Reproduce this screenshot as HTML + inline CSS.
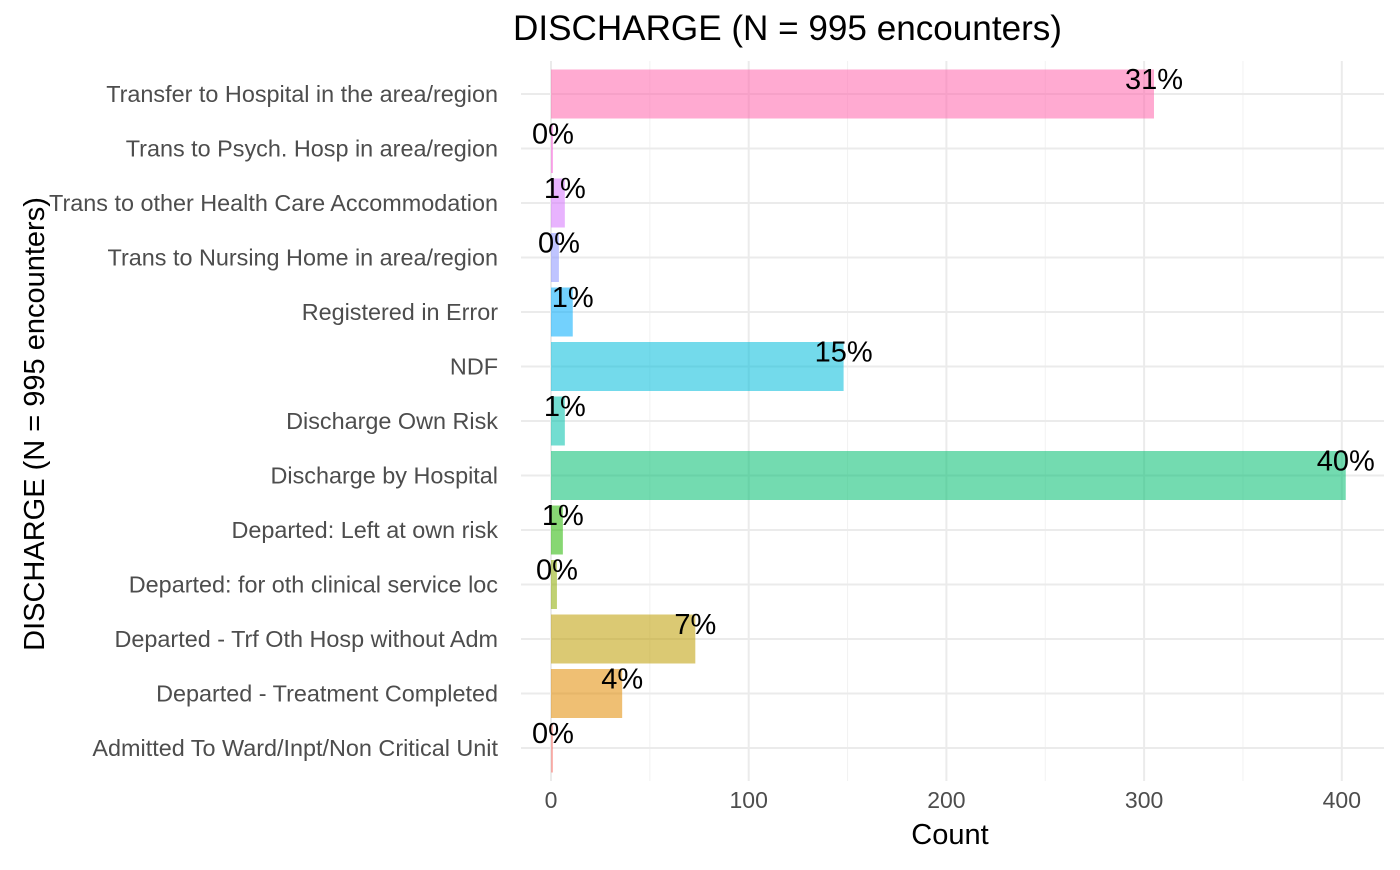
<!DOCTYPE html>
<html><head><meta charset="utf-8"><style>
body{margin:0;background:#fff;font-family:"Liberation Sans",Arial,sans-serif}
</style></head><body>
<svg id="chart" width="1400" height="865" xmlns="http://www.w3.org/2000/svg" style="font-family:'Liberation Sans',Arial,sans-serif">
<text x="513" y="40" font-size="35" fill="#000" textLength="549" lengthAdjust="spacingAndGlyphs">DISCHARGE (N = 995 encounters)</text>
<text transform="translate(44,424) rotate(-90)" text-anchor="middle" font-size="29" fill="#000">DISCHARGE (N = 995 encounters)</text>
<text x="950" y="844" text-anchor="middle" font-size="29" fill="#000">Count</text>
<g id="grid"></g><g id="bars"></g><g id="labels"></g><g id="ticks"></g>
</svg>
<script>
const categories=["Admitted To Ward/Inpt/Non Critical Unit","Departed - Treatment Completed","Departed - Trf Oth Hosp without Adm","Departed: for oth clinical service loc","Departed: Left at own risk","Discharge by Hospital","Discharge Own Risk","NDF","Registered in Error","Trans to Nursing Home in area/region","Trans to other Health Care Accommodation","Trans to Psych. Hosp in area/region","Transfer to Hospital in the area/region"];
const counts=[1,36,73,3,6,402,7,148,11,4,7,1,305];
const total=995;
const xTicks=[0,100,200,300,400];
const colors=["#F8766D","#E18A00","#BE9C00","#8CAB00","#24B700","#00BE70","#00C1AB","#00BBDA","#00ACFC","#8B93FF","#D575FE","#F962DD","#FF65AC"];
const NS="http://www.w3.org/2000/svg";
const x=v=>551+v*1.977;
const band=54.5;
const y=i=>748-i*band;
function mk(t,a,p){const e=document.createElementNS(NS,t);for(const k in a)e.setAttribute(k,a[k]);p.appendChild(e);return e;}
const grid=document.getElementById('grid'),bars=document.getElementById('bars'),labels=document.getElementById('labels'),ticks=document.getElementById('ticks');
for(let i=0;i<xTicks.length;i++){
 const l=mk('line',{x1:x(xTicks[i]),x2:x(xTicks[i]),y1:61,y2:781,stroke:'#ebebeb','stroke-width':2},grid);
 
 
 if(i<xTicks.length-1){const m=(xTicks[i]+xTicks[i+1])/2;
  const ml=mk('line',{x1:x(m),x2:x(m),y1:61,y2:781,stroke:'#f2f2f2','stroke-width':1},grid);
  
  }
 const t=mk('text',{x:x(xTicks[i]),y:808,'text-anchor':'middle','font-size':23,fill:'#4d4d4d'},ticks);
 t.textContent=xTicks[i];
 
 
}
categories.forEach((c,i)=>{
 const g=mk('line',{x1:521,x2:1384,y1:y(i),y2:y(i),stroke:'#ebebeb','stroke-width':2},grid);
 
 
 const r=mk('rect',{x:x(0),y:y(i)-24.5,width:x(counts[i])-x(0),height:49,fill:colors[i],'fill-opacity':0.55},bars);
 
 
 const t=mk('text',{x:498,y:y(i)+8,'text-anchor':'end','font-size':23.4,fill:'#4d4d4d'},ticks);
 t.textContent=c;
 
 
 const p=mk('text',{x:x(counts[i]),y:y(i)-5,'text-anchor':'middle','font-size':29,fill:'#000'},labels);
 p.textContent=Math.round(counts[i]/total*100)+'%';
 
 
});
</script>
</body></html>
